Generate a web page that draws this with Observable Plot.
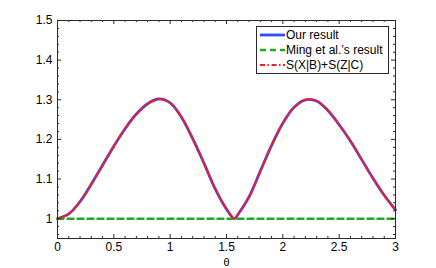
<!DOCTYPE html>
<html><head><meta charset="utf-8">
<script src="https://cdn.jsdelivr.net/npm/d3@7"></script>
<script src="https://cdn.jsdelivr.net/npm/@observablehq/plot@0.6"></script>
<style>
body{margin:0;background:#fff;}
#wrap{position:relative;width:436px;height:268px;font-family:"Liberation Sans",Arial,sans-serif;}
#legend{position:absolute;left:256px;top:26px;}
</style>
</head><body>
<div id="wrap"><div id="chart"></div><div id="legend"></div></div>
<script>
// θ values
const theta = [0,0.1,0.2,0.3,0.4,0.5,0.6,0.7,0.8,0.9,1.0,1.1,1.2,1.3,1.4,1.5,1.5708,1.6,1.7,1.8,1.9,2.0,2.1,2.2,2.3,2.4,2.5,2.6,2.7,2.8,2.9,3.0];
// Our result
const ourResult = [1.000,1.012,1.043,1.087,1.135,1.183,1.227,1.264,1.290,1.302,1.292,1.256,1.202,1.140,1.075,1.024,1.000,1.010,1.055,1.120,1.185,1.241,1.281,1.300,1.297,1.273,1.237,1.196,1.149,1.102,1.059,1.022];
// S(X|B)+S(Z|C) (coincides with our result)
const sumEntropy = [1.000,1.012,1.043,1.087,1.135,1.183,1.227,1.264,1.290,1.302,1.292,1.256,1.202,1.140,1.075,1.024,1.000,1.010,1.055,1.120,1.185,1.241,1.281,1.300,1.297,1.273,1.237,1.196,1.149,1.102,1.059,1.022];
// Ming et al.'s result
const mingTheta = [0, 3];
const mingResult = [1, 1];
// ticks
const xMajor = [0,0.5,1,1.5,2,2.5,3];
const xMinor = [0.1,0.2,0.3,0.4,0.6,0.7,0.8,0.9,1.1,1.2,1.3,1.4,1.6,1.7,1.8,1.9,2.1,2.2,2.3,2.4,2.6,2.7,2.8,2.9];
const yMajor = [1,1.1,1.2,1.3,1.4,1.5];
const yMinor = [0.96,0.98,1.02,1.04,1.06,1.08,1.12,1.14,1.16,1.18,1.22,1.24,1.26,1.28,1.32,1.34,1.36,1.38,1.42,1.44,1.46,1.48];
const seriesNames = ["Our result","Ming et al.\u2019s result","S(X|B)+S(Z|C)"];

const ours = theta.map((t,i)=>({t, v: ourResult[i]}));
const sums = theta.map((t,i)=>({t, v: sumEntropy[i]}));
const ming = mingTheta.map((t,i)=>({t, v: mingResult[i]}));

const BLUE="#2a4dff", GREEN="#1faa1f", RED="#ff1a1a", AX="#2a2a2a";
const fmt = d => String(d);
const W = 436, H = 268, ML = 57, MR = 41, MT = 20, MB = 30;
const FW = W - ML - MR, FH = H - MT - MB;

const chart = Plot.plot({
  width: W, height: H,
  marginLeft: ML, marginRight: MR, marginTop: MT, marginBottom: MB,
  x: {domain: [0, 3]},
  y: {domain: [0.95, 1.5]},
  style: {fontFamily: "'Liberation Sans', Arial, sans-serif", fontSize: "12px", color: "#000", background: "#fff", overflow: "visible"},
  marks: [
    Plot.line(ours, {x: "t", y: "v", stroke: BLUE, strokeWidth: 2.8, curve: "catmull-rom"}),
    Plot.line(ming, {x: "t", y: "v", stroke: GREEN, strokeWidth: 2.4, strokeDasharray: "6,4"}),
    Plot.line(sums, {x: "t", y: "v", stroke: RED, strokeWidth: 2, strokeDasharray: "5,2.5,1.5,2.5", curve: "catmull-rom"}),
    // inward tick marks on all four sides
    Plot.tickX(xMajor, {x: d => d, insetTop: FH - 4, stroke: AX}),
    Plot.tickX(xMajor, {x: d => d, insetBottom: FH - 4, stroke: AX}),
    Plot.tickX(xMinor, {x: d => d, insetTop: FH - 2, stroke: AX}),
    Plot.tickX(xMinor, {x: d => d, insetBottom: FH - 2, stroke: AX}),
    Plot.tickY(yMajor, {y: d => d, insetRight: FW - 4, stroke: AX}),
    Plot.tickY(yMajor, {y: d => d, insetLeft: FW - 4, stroke: AX}),
    Plot.tickY(yMinor, {y: d => d, insetRight: FW - 2, stroke: AX}),
    Plot.tickY(yMinor, {y: d => d, insetLeft: FW - 2, stroke: AX}),
    Plot.frame({stroke: AX, strokeWidth: 1}),
    Plot.axisX(xMajor, {anchor: "bottom", tickSize: 0, tickPadding: 4, tickFormat: fmt, label: null}),
    Plot.axisX({anchor: "bottom", ticks: [], label: "θ", labelAnchor: "center", labelArrow: "none", labelOffset: 27, fontSize: 11}),
    Plot.axisY(yMajor, {anchor: "left", tickSize: 0, tickPadding: 5, tickFormat: fmt, label: null})
  ]
});
document.getElementById("chart").appendChild(chart);

// legend
const lw = 132, lh = 47;
const styles = [
  {stroke: BLUE, width: 2.8, dash: null},
  {stroke: GREEN, width: 2.4, dash: "6,4"},
  {stroke: RED, width: 2, dash: "5,2.5,1.5,2.5"}
];
const ns = "http://www.w3.org/2000/svg";
const lg = document.createElementNS(ns, "svg");
lg.setAttribute("width", lw + 1); lg.setAttribute("height", lh + 1);
const box = document.createElementNS(ns, "rect");
box.setAttribute("x", 0.5); box.setAttribute("y", 0.5); box.setAttribute("width", lw); box.setAttribute("height", lh);
box.setAttribute("fill", "#fff"); box.setAttribute("stroke", AX);
lg.appendChild(box);
seriesNames.forEach((name, i) => {
  const cy = 9 + i * 15;
  const ln = document.createElementNS(ns, "line");
  ln.setAttribute("x1", 4); ln.setAttribute("x2", 29); ln.setAttribute("y1", cy); ln.setAttribute("y2", cy);
  ln.setAttribute("stroke", styles[i].stroke); ln.setAttribute("stroke-width", styles[i].width);
  if (styles[i].dash) ln.setAttribute("stroke-dasharray", styles[i].dash);
  lg.appendChild(ln);
  const tx = document.createElementNS(ns, "text");
  tx.setAttribute("x", 30); tx.setAttribute("y", cy + 4);
  tx.setAttribute("font-size", "12px");
  tx.setAttribute("font-family", "'Liberation Sans', Arial, sans-serif");
  tx.textContent = name;
  lg.appendChild(tx);
});
document.getElementById("legend").appendChild(lg);
</script>
</body></html>
